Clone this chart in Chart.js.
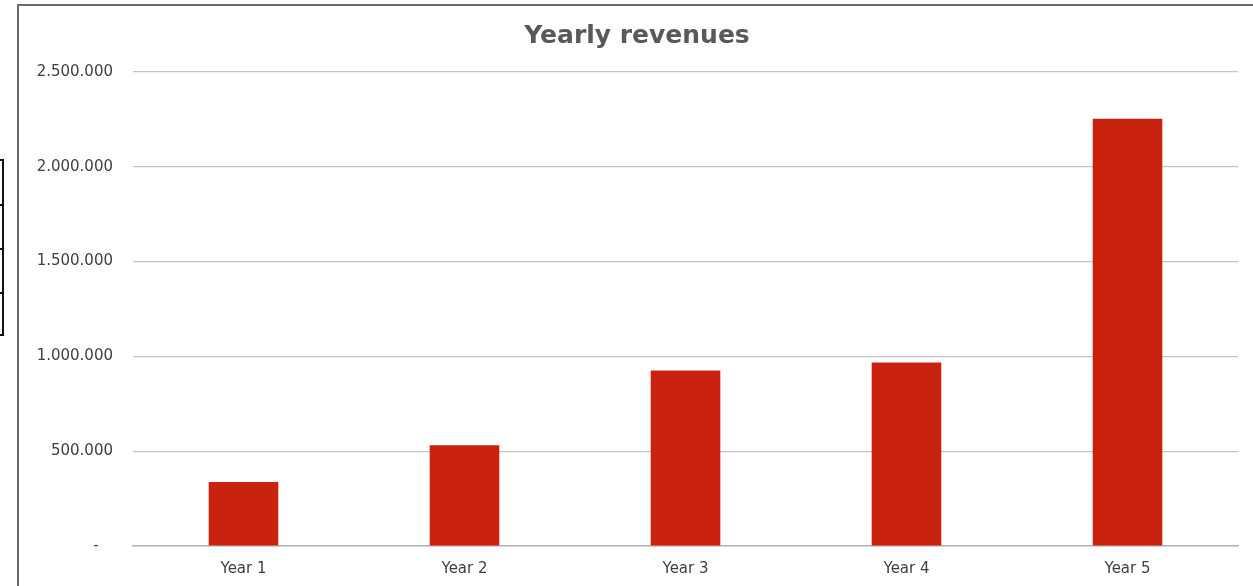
<!DOCTYPE html>
<html>
<head>
<meta charset="utf-8">
<title>Yearly revenues</title>
<script src="https://cdn.jsdelivr.net/npm/chart.js@4/dist/chart.umd.min.js"></script>
<style>
  html, body { margin: 0; padding: 0; background: #ffffff; overflow: hidden; width: 1253px; height: 586px; }
  #frame { position: absolute; left: 17px; top: 4px; width: 1300px; height: 700px;
           border-top: 2px solid #6a6a6a; border-left: 2px solid #6a6a6a; box-sizing: border-box; }
  #wrap { position: absolute; left: 18px; top: 0px; width: 1238px; height: 586px; }
  .cell { position: absolute; left: -3px; width: 7px; border: 2px solid #111; box-sizing: border-box; }
</style>
</head>
<body>
<!-- spreadsheet cells peeking out at the left edge -->
<div class="cell" style="top:159px;height:47px"></div>
<div class="cell" style="top:204px;height:46px"></div>
<div class="cell" style="top:248px;height:46px"></div>
<div class="cell" style="top:292px;height:44px"></div>
<div id="frame"></div>
<div id="wrap"><canvas id="chart" width="1238" height="586"></canvas></div>
<script>
// Revenue per year
const categories = ['Year 1', 'Year 2', 'Year 3', 'Year 4', 'Year 5'];
const revenues = [337000, 532000, 926000, 968000, 2253000];
const yTicks = [0, 500000, 1000000, 1500000, 2000000, 2500000];

function formatThousands(v) {
  if (v === 0) return '-   ';
  return String(Math.round(v)).replace(/\B(?=(\d{3})+(?!\d))/g, '.');
}

const textColor = '#404040';
const gridColor = '#c4c4c4';

new Chart(document.getElementById('chart'), {
  type: 'bar',
  data: {
    labels: categories,
    datasets: [{
      label: 'Revenues',
      data: revenues,
      backgroundColor: '#c9220e',
      borderWidth: 0,
      categoryPercentage: 1.0,
      barPercentage: 0.315
    }]
  },
  options: {
    responsive: false,
    animation: false,
    devicePixelRatio: 1,
    layout: { padding: { left: 0, right: 0, top: 0, bottom: 0 } },
    plugins: {
      legend: { display: false },
      tooltip: { enabled: false },
      title: {
        display: true,
        text: 'Yearly revenues',
        color: '#595959',
        font: { family: 'DejaVu Sans', size: 25, weight: 'bold' },
        padding: { top: 21, bottom: 21 }
      }
    },
    scales: {
      x: {
        afterFit: (scale) => { scale.height = 40; },
        grid: { display: false, drawTicks: false },
        border: { display: true, color: '#b4b4b4', width: 1.5 },
        ticks: {
          color: textColor,
          font: { family: 'DejaVu Sans', size: 15 },
          padding: 14
        }
      },
      y: {
        min: 0,
        max: 2500000,
        afterFit: (scale) => { scale.width = 115; },
        afterBuildTicks: (scale) => { scale.ticks = yTicks.map(v => ({ value: v })); },
        grid: { color: gridColor, lineWidth: 1.2, drawTicks: false },
        border: { display: false },
        ticks: {
          color: textColor,
          font: { family: 'DejaVu Sans', size: 15 },
          padding: 20,
          callback: (v) => formatThousands(v)
        }
      },
      // empty strip on the right so the plot ends short of the frame edge
      yRight: {
        position: 'right',
        min: 0,
        max: 2500000,
        afterFit: (scale) => { scale.width = 18; },
        grid: { display: false, drawTicks: false },
        border: { display: false },
        ticks: { display: false }
      }
    }
  }
});
</script>
</body>
</html>
